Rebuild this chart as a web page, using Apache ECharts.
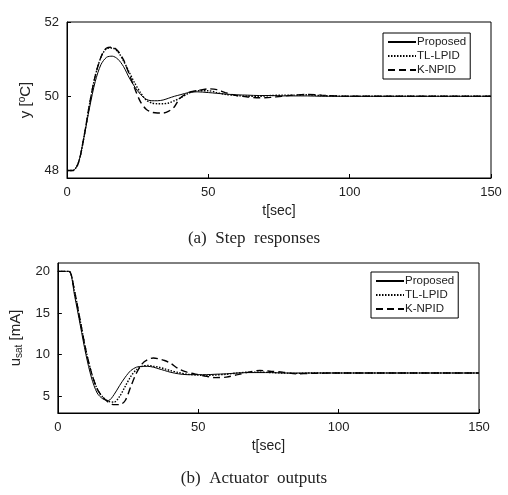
<!DOCTYPE html>
<html lang="en">
<head>
    <meta charset="UTF-8">
    <title>Step responses</title>
    <script src="https://cdn.jsdelivr.net/npm/echarts@6/dist/echarts.min.js"></script>
    <style>
        body { margin: 0; padding: 0; background: #fff; }
        #chart { width: 508px; height: 495px; }
    </style>
</head>
<body>
<div id="chart"></div>
<script>
    // time grid shared by all series
    var t = [0,2,4,6,8,10,12,14,16,18,20,22,24,26,28,30,32,34,36,38,40,43,46,50,53,56,60,64,68,72,76,80,85,90,100,120,150];

    // (a) step responses
    var yProposed = [48,48,48.2,48.9,49.7,50.4,50.85,51.05,51.08,51.0,50.8,50.5,50.25,50.05,49.92,49.88,49.88,49.9,49.95,50.0,50.04,50.1,50.12,50.1,50.08,50.06,50.04,50.03,50.02,50.02,50.01,50.01,50.01,50,50,50,50];
    var yTL = [48,48,48.2,48.9,49.8,50.55,51.05,51.28,51.3,51.2,50.95,50.65,50.35,50.1,49.9,49.82,49.8,49.8,49.82,49.88,49.95,50.08,50.15,50.15,50.1,50.05,50.02,50.0,50.0,50.02,50.03,50.03,50.04,50.02,50,50,50];
    var yK = [48,48,48.2,48.9,49.8,50.55,51.05,51.3,51.32,51.22,50.98,50.6,50.2,49.85,49.65,49.57,49.55,49.55,49.6,49.72,49.95,50.1,50.15,50.2,50.18,50.1,50.02,49.98,49.96,49.97,50.0,50.03,50.05,50.03,50,50,50];

    // (b) actuator outputs
    var uProposed = [20,20,20,17,13.5,10,7.2,5.4,4.7,4.5,5.2,6.3,7.3,8.1,8.5,8.6,8.6,8.5,8.3,8.1,7.9,7.7,7.6,7.6,7.6,7.65,7.7,7.8,7.85,7.85,7.85,7.8,7.8,7.8,7.8,7.8,7.8];
    var uTL = [20,20,20,17.5,14,10.5,7.8,5.9,4.9,4.4,4.3,5.0,6.2,7.4,8.2,8.6,8.7,8.6,8.5,8.3,8.1,7.85,7.65,7.55,7.5,7.55,7.65,7.8,7.9,7.9,7.85,7.8,7.75,7.8,7.8,7.8,7.8];
    var uK = [20,20,20,17.5,14,10.5,7.8,5.9,4.9,4.3,4.0,4.0,4.5,6.2,7.8,8.9,9.4,9.6,9.5,9.3,9.0,8.3,7.9,7.6,7.4,7.25,7.3,7.6,7.9,8.1,8.0,7.9,7.7,7.75,7.8,7.8,7.8];

    var names = ['Proposed', 'TL-LPID', 'K-NPID'];
    var dashes = ['solid', [1.5, 1.5], [7, 4]];

    function pairs(ys) {
        return t.map(function (v, i) { return [v, ys[i]]; });
    }

    var font = 'Arial, "Liberation Sans", sans-serif';
    var axisText = { color: '#222', fontSize: 13, fontFamily: font };

    function xAxis(idx) {
        return {
            type: 'value', gridIndex: idx, min: 0, max: 150, interval: 50,
            name: 't[sec]', nameLocation: 'middle', nameGap: 26,
            nameTextStyle: { color: '#222', fontSize: 14, fontFamily: font },
            axisLine: { lineStyle: { color: '#000' } },
            axisTick: { inside: true, length: 4, lineStyle: { color: '#000' } },
            axisLabel: axisText,
            splitLine: { show: false }
        };
    }

    function series(ys, k, idx) {
        return {
            type: 'line', name: names[k], xAxisIndex: idx, yAxisIndex: idx,
            data: pairs(ys), symbol: 'none', smooth: 0.3,
            itemStyle: { color: '#000' },
            lineStyle: { color: '#000', width: k === 0 ? 1 : 1.4, type: dashes[k] }
        };
    }

    function legend(idx, left, top) {
        return {
            data: names, left: left, top: top, orient: 'vertical',
            itemWidth: 28, itemHeight: 8, itemGap: 2, padding: [3, 4, 3, 4],
            borderColor: '#000', borderWidth: 1, backgroundColor: '#fff',
            itemStyle: { opacity: 0 },
            textStyle: { color: '#222', fontSize: 11.5, fontFamily: font, padding: [0, 0, 0, -4] },
            selectedMode: false
        };
    }

    var chart = echarts.init(document.getElementById('chart'));
    chart.setOption({
        animation: false,
        grid: [
            { left: 67, right: 17, top: 22, height: 156, show: true, borderColor: '#000', borderWidth: 1 },
            { left: 55, right: 29, top: 263, height: 150, show: true, borderColor: '#000', borderWidth: 1 }
        ],
        xAxis: [xAxis(0), xAxis(1)],
        yAxis: [
            {
                type: 'value', gridIndex: 0, min: 47.8, max: 52,
                axisLabel: Object.assign({}, axisText, { customValues: [48, 50, 52] }),
                axisTick: { inside: true, length: 4, customValues: [48, 50, 52], lineStyle: { color: '#000' } },
                axisLine: { show: true, lineStyle: { color: '#000' } },
                splitLine: { show: false },
                name: '{a|y [}{s|o}{a|C]}', nameLocation: 'middle', nameGap: 30, nameRotate: 90,
                nameTextStyle: { rich: {
                    a: { fontSize: 15, color: '#222', fontFamily: font },
                    s: { fontSize: 10, color: '#222', fontFamily: font, verticalAlign: 'top', padding: [0, 0, 8, 0] }
                } }
            },
            {
                type: 'value', gridIndex: 1, min: 3, max: 21,
                axisLabel: Object.assign({}, axisText, { customValues: [5, 10, 15, 20] }),
                axisTick: { inside: true, length: 4, customValues: [5, 10, 15, 20], lineStyle: { color: '#000' } },
                axisLine: { show: true, lineStyle: { color: '#000' } },
                splitLine: { show: false },
                name: '{a|u}{s|sat}{a| [mA]}', nameLocation: 'middle', nameGap: 26, nameRotate: 90,
                nameTextStyle: { rich: {
                    a: { fontSize: 15, color: '#222', fontFamily: font },
                    s: { fontSize: 10, color: '#222', fontFamily: font, verticalAlign: 'bottom', padding: [8, 0, 0, 0] }
                } }
            }
        ],
        legend: [legend(0, 383, 33), legend(1, 371, 272)],
        series: [
            series(yProposed, 0, 0), series(yTL, 1, 0), series(yK, 2, 0),
            series(uProposed, 0, 1), series(uTL, 1, 1), series(uK, 2, 1)
        ],
        graphic: [
            { type: 'text', left: 'center', top: 230, style: { text: '(a)  Step  responses', fontSize: 17, fontFamily: '"Liberation Serif", serif', fill: '#222' } },
            { type: 'text', left: 'center', top: 470, style: { text: '(b)  Actuator  outputs', fontSize: 17, fontFamily: '"Liberation Serif", serif', fill: '#222' } }
        ]
    });
</script>
</body>
</html>
